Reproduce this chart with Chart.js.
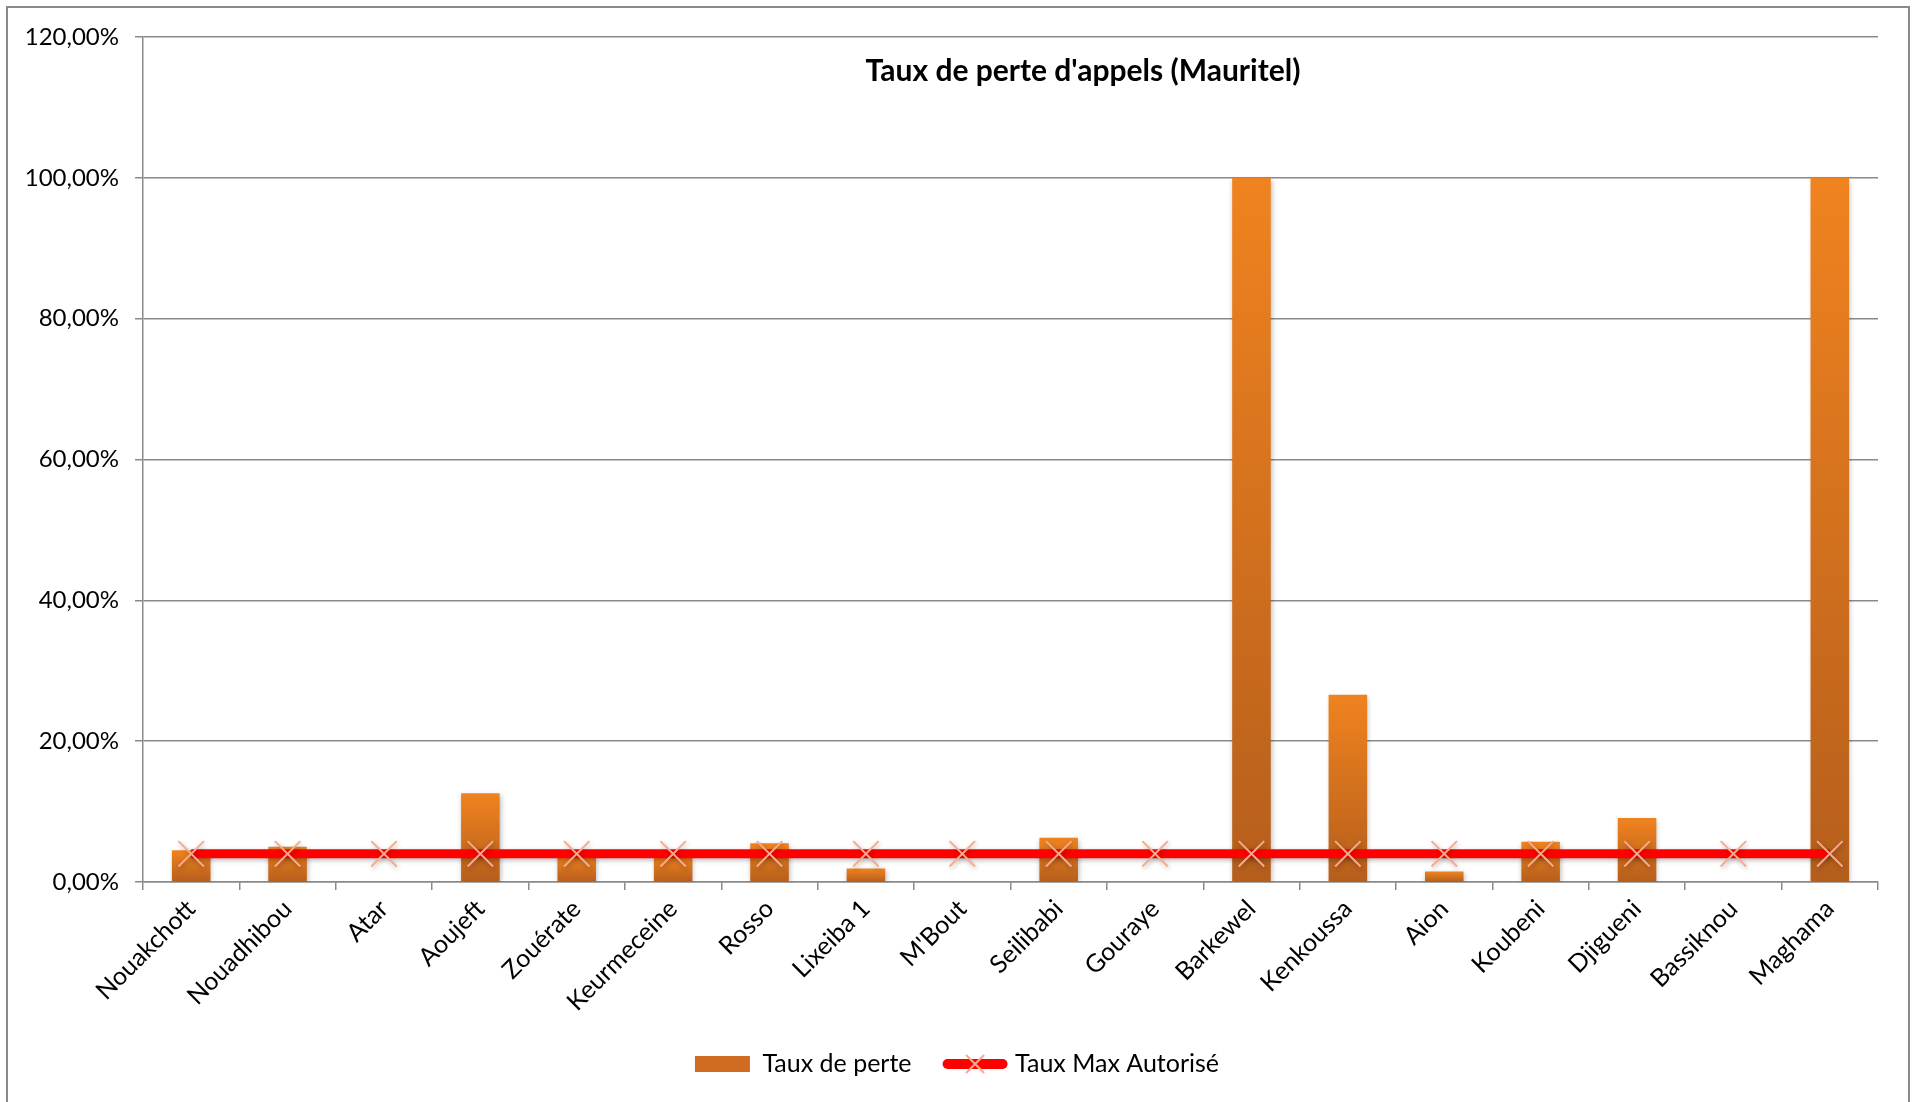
<!DOCTYPE html>
<html>
<head>
<meta charset="utf-8">
<script src="https://cdn.jsdelivr.net/npm/chart.js@4.4.1/dist/chart.umd.min.js"></script>
<style>
    html, body { margin: 0; padding: 0; background: #fff; overflow: hidden; }
    #wrap { position: absolute; left: 0; top: 0; width: 1914px; height: 1102px; }
    #frame { position: absolute; left: 6px; top: 6px; width: 1900px; height: 1200px;
             border: 2px solid #8a8a8a; pointer-events: none; }
</style>
</head>
<body>
<div id="wrap"><canvas id="chart"></canvas></div>
<div id="frame"></div>
<script>
const sites = ['Nouakchott', 'Nouadhibou', 'Atar', 'Aoujeft', 'Zouérate', 'Keurmeceine', 'Rosso',
    'Lixeiba 1', "M'Bout", 'Seilibabi', 'Gouraye', 'Barkewel', 'Kenkoussa', 'Aion', 'Koubeni',
    'Djigueni', 'Bassiknou', 'Maghama']

// taux de perte en %
const tauxPerte = [4.5, 5.0, 0, 12.6, 3.7, 3.6, 5.5, 1.9, 0, 6.3, 0, 100, 26.6, 1.5, 5.7, 9.1, 0, 100]

// taux max autorisé en %
const tauxMax = [4, 4, 4, 4, 4, 4, 4, 4, 4, 4, 4, 4, 4, 4, 4, 4, 4, 4]

const yTicks = [0, 20, 40, 60, 80, 100, 120]

const titre = "Taux de perte d'appels (Mauritel)"

const gris = '#8a8a8a'
const saumon = '#f7ab8c'

Chart.defaults.font.family = 'Lato'
Chart.defaults.color = '#000'


function barGradient(context) {
    const chart = context.chart
    if (!chart.chartArea || context.type !== 'data') return '#d46f22'
    const y = chart.scales.y
    const top = y.getPixelForValue(context.parsed.y)
    const bottom = y.getPixelForValue(0)
    if (bottom - top < 1) return '#d46f22'
    const g = chart.ctx.createLinearGradient(0, top, 0, bottom)
    g.addColorStop(0, '#f0831f')
    g.addColorStop(1, '#b55e1c')
    return g
}


const shadowPlugin = {
    id: 'ombre',
    beforeDatasetDraw(chart) {
        const ctx = chart.ctx
        ctx.save()
        ctx.shadowColor = 'rgba(0,0,0,0.28)'
        ctx.shadowBlur = 5
        ctx.shadowOffsetX = 1
        ctx.shadowOffsetY = 2
    },
    afterDatasetDraw(chart) {
        chart.ctx.restore()
    }
}

const titlePlugin = {
    id: 'titreInterne',
    afterDraw(chart) {
        const ctx = chart.ctx
        ctx.save()
        ctx.font = 'bold 30px Lato'
        ctx.fillStyle = '#000'
        ctx.textAlign = 'center'
        ctx.textBaseline = 'alphabetic'
        ctx.fillText(titre, 1083, 81)

        // petite croix sur la ligne de la légende
        const box = chart.legend.legendHitBoxes[1]
        if (box) {
            const cx = box.left + 27.5
            const cy = box.top + box.height / 2
            const r = 9
            ctx.strokeStyle = saumon
            ctx.lineWidth = 2
            ctx.beginPath()
            ctx.moveTo(cx - r, cy - r)
            ctx.lineTo(cx + r, cy + r)
            ctx.moveTo(cx + r, cy - r)
            ctx.lineTo(cx - r, cy + r)
            ctx.stroke()
        }
        ctx.restore()
    }
}


new Chart(document.getElementById('chart'), {
    type: 'bar',
    data: {
        labels: sites,
        datasets: [
            {
                label: 'Taux de perte',
                data: tauxPerte,
                backgroundColor: barGradient,
                borderWidth: 0,
                barPercentage: 0.4,
                categoryPercentage: 1,
                order: 1
            },
            {
                type: 'line',
                label: 'Taux Max Autorisé',
                data: tauxMax,
                borderColor: '#ff0000',
                backgroundColor: '#ff0000',
                borderWidth: 9,
                pointStyle: 'crossRot',
                pointRadius: 18,
                pointBorderColor: saumon,
                pointBorderWidth: 2,
                pointBackgroundColor: saumon,
                order: 0
            }
        ]
    },
    options: {
        responsive: true,
        maintainAspectRatio: false,
        animation: false,
        layout: {
            padding: { left: 0, right: 0, top: 37, bottom: 15.5 }
        },
        scales: {
            x: {
                offset: true,
                grid: { offset: true, drawOnChartArea: false, tickLength: 8, color: gris, lineWidth: 1.5 },
                border: { color: gris, width: 1.5 },
                ticks: { minRotation: 45, maxRotation: 45, autoSkip: false, font: { size: 25 }, padding: 4 },
                afterFit(scale) { scale.height = 133.5 }
            },
            y: {
                min: 0,
                max: 120,
                afterBuildTicks(scale) { scale.ticks = yTicks.map(v => ({ value: v })) },
                grid: { tickLength: 8, color: gris, lineWidth: 1.5 },
                border: { color: gris, width: 1.5 },
                ticks: {
                    padding: 16,
                    font: { size: 24 },
                    callback: v => v.toFixed(2).replace('.', ',') + '%'
                },
                afterFit(scale) { scale.width = 143 }
            },
            // axe vide à droite, juste pour la marge
            yVide: {
                position: 'right',
                min: 0,
                max: 120,
                grid: { display: false },
                border: { display: false },
                ticks: { display: false },
                afterFit(scale) { scale.width = 36 }
            }
        },
        plugins: {
            title: { display: false },
            tooltip: { enabled: false },
            legend: {
                position: 'bottom',
                labels: {
                    usePointStyle: true,
                    pointStyleWidth: 55,
                    boxHeight: 16,
                    padding: 36,
                    font: { size: 25 },
                    generateLabels(chart) {
                        return [
                            { text: 'Taux de perte', datasetIndex: 0, pointStyle: 'rect',
                              fillStyle: '#d06c21', strokeStyle: '#d06c21', lineWidth: 0 },
                            { text: 'Taux Max Autorisé', datasetIndex: 1, pointStyle: 'line',
                              fillStyle: '#ff0000', strokeStyle: '#ff0000', lineWidth: 10, lineCap: 'round' }
                        ]
                    }
                }
            }
        }
    },
    plugins: [shadowPlugin, titlePlugin]
})
</script>
</body>
</html>
